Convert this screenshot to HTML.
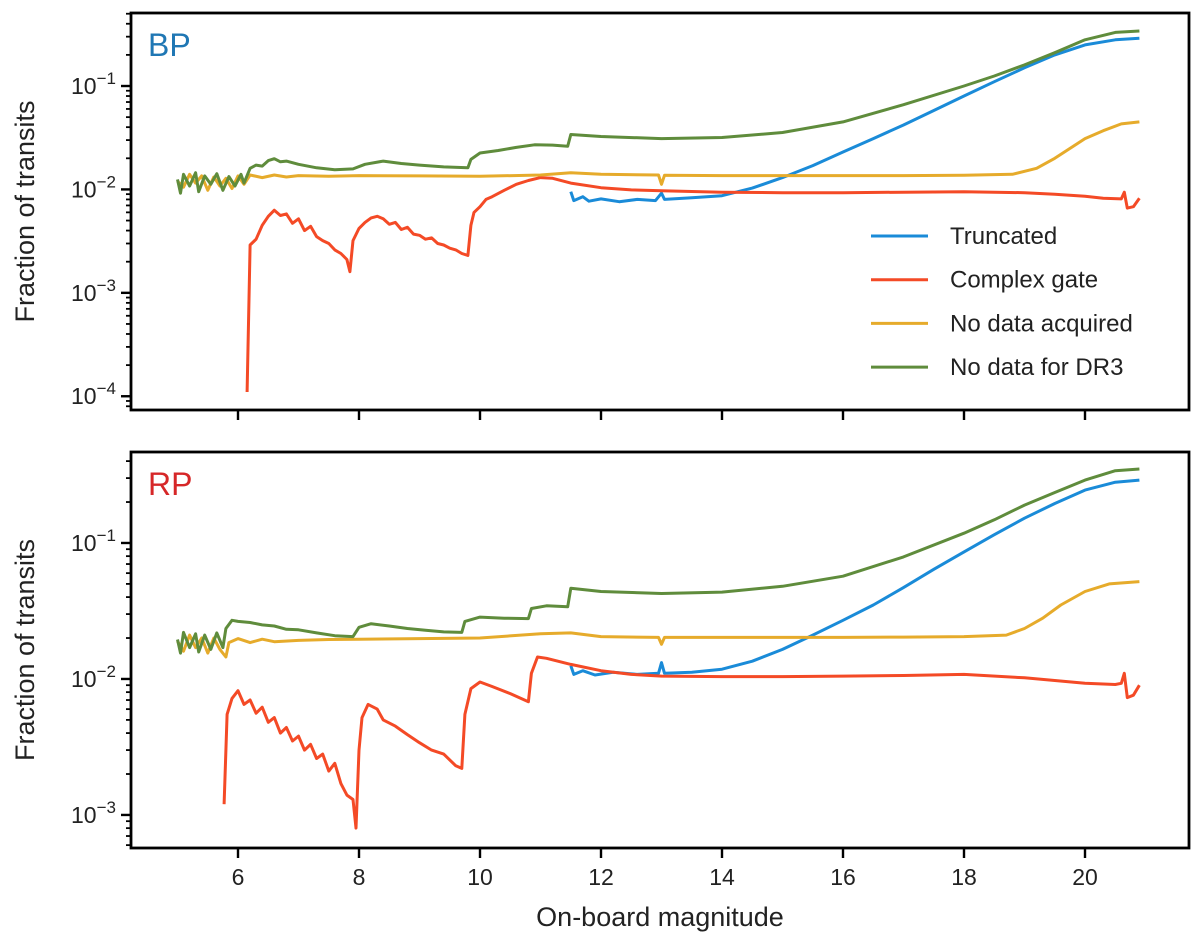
<!DOCTYPE html>
<html><head><meta charset="utf-8">
<style>
html,body{margin:0;padding:0;background:#fff;}
svg{display:block;font-family:"Liberation Sans",sans-serif;}
</style></head>
<body>
<svg id="chart" width="1200" height="951" viewBox="0 0 1200 951">
  <g id="bp-panel"></g>
  <g id="rp-panel"></g>
  <text x="660" y="926" font-size="27" text-anchor="middle" fill="#222">On-board magnitude</text>
</svg>
<script>
// ---- data: [magnitude, fraction] ----
const bpTruncated = [[11.5,0.0095],[11.55,0.0078],[11.7,0.0085],[11.8,0.0077],[12,0.0081],[12.3,0.0076],[12.6,0.008],[12.9,0.0078],[13,0.0092],[13.05,0.008],[13.5,0.0083],[14,0.0087],[14.5,0.0103],[15,0.013],[15.5,0.017],[16,0.023],[16.5,0.031],[17,0.042],[17.5,0.058],[18,0.08],[18.5,0.11],[19,0.15],[19.5,0.2],[20,0.25],[20.5,0.28],[20.9,0.29]];
const bpComplex = [[6.15,0.00011],[6.2,0.0029],[6.3,0.0033],[6.4,0.0045],[6.5,0.0055],[6.6,0.0063],[6.7,0.0056],[6.8,0.0058],[6.9,0.0047],[7.0,0.0052],[7.1,0.004],[7.2,0.0044],[7.3,0.0035],[7.4,0.0032],[7.5,0.003],[7.6,0.0026],[7.7,0.0024],[7.8,0.0021],[7.85,0.0016],[7.9,0.0032],[8.0,0.0042],[8.1,0.0048],[8.2,0.0053],[8.3,0.0055],[8.4,0.0052],[8.5,0.0046],[8.6,0.0048],[8.7,0.0041],[8.8,0.0043],[8.9,0.0037],[9.0,0.0036],[9.1,0.0033],[9.2,0.0034],[9.3,0.003],[9.4,0.0029],[9.5,0.0027],[9.6,0.0026],[9.7,0.0024],[9.8,0.0023],[9.85,0.0045],[9.9,0.006],[10.0,0.0068],[10.1,0.008],[10.2,0.0085],[10.4,0.0098],[10.6,0.0112],[10.8,0.0122],[11.0,0.013],[11.2,0.0128],[11.5,0.0115],[12,0.0104],[12.5,0.0099],[13,0.0097],[14,0.0094],[15,0.0093],[16,0.0093],[17,0.0094],[18,0.0095],[19,0.0093],[19.5,0.009],[20,0.0086],[20.3,0.0082],[20.6,0.0081],[20.65,0.0094],[20.7,0.0066],[20.8,0.0068],[20.9,0.0082]];
const bpNoData = [[5,0.012],[5.1,0.0105],[5.2,0.014],[5.3,0.0115],[5.4,0.0135],[5.5,0.0098],[5.6,0.0132],[5.7,0.0108],[5.8,0.0128],[5.9,0.0102],[6.0,0.0135],[6.1,0.0112],[6.2,0.0138],[6.4,0.013],[6.6,0.0138],[6.8,0.0132],[7.0,0.0136],[7.5,0.0134],[8,0.0136],[9,0.0135],[10,0.0134],[11,0.0138],[11.5,0.0145],[12,0.014],[12.95,0.0138],[13,0.0112],[13.05,0.0137],[14,0.0136],[15,0.0136],[16,0.0136],[17,0.0136],[18,0.0137],[18.8,0.014],[19.2,0.016],[19.5,0.02],[19.8,0.026],[20,0.031],[20.3,0.037],[20.6,0.043],[20.9,0.045]];
const bpDR3 = [[5,0.0125],[5.05,0.0092],[5.1,0.014],[5.2,0.0108],[5.3,0.0145],[5.35,0.0095],[5.45,0.0135],[5.55,0.0112],[5.65,0.0142],[5.75,0.0098],[5.85,0.0133],[5.95,0.0108],[6.05,0.014],[6.1,0.0115],[6.2,0.016],[6.3,0.0172],[6.4,0.0168],[6.5,0.019],[6.6,0.0198],[6.7,0.0185],[6.8,0.0188],[7.0,0.0175],[7.3,0.0162],[7.6,0.0155],[7.9,0.0158],[8.1,0.0175],[8.4,0.0188],[8.7,0.0178],[9.0,0.0172],[9.4,0.0165],[9.8,0.0162],[9.85,0.0195],[10.0,0.0225],[10.3,0.0238],[10.6,0.0255],[10.9,0.027],[11.2,0.0268],[11.45,0.0262],[11.5,0.034],[12,0.0325],[13,0.031],[14,0.0318],[15,0.0355],[16,0.045],[17,0.066],[18,0.1],[18.5,0.125],[19,0.16],[19.5,0.21],[20,0.28],[20.5,0.33],[20.9,0.34]];

const rpTruncated = [[11.5,0.0125],[11.55,0.0108],[11.7,0.0115],[11.9,0.0107],[12.2,0.0112],[12.6,0.0108],[12.95,0.011],[13,0.0132],[13.05,0.011],[13.5,0.0112],[14,0.0118],[14.5,0.0135],[15,0.0165],[15.5,0.021],[16,0.027],[16.5,0.035],[17,0.047],[17.5,0.064],[18,0.086],[18.5,0.115],[19,0.152],[19.5,0.195],[20,0.245],[20.5,0.28],[20.9,0.29]];
const rpComplex = [[5.77,0.0012],[5.82,0.0055],[5.9,0.0072],[6.0,0.0082],[6.1,0.0065],[6.2,0.007],[6.3,0.0056],[6.4,0.0062],[6.5,0.0048],[6.6,0.0052],[6.7,0.004],[6.8,0.0044],[6.9,0.0035],[7.0,0.0038],[7.1,0.003],[7.2,0.0033],[7.3,0.0026],[7.4,0.0028],[7.5,0.0021],[7.6,0.0024],[7.7,0.0017],[7.8,0.0014],[7.9,0.0013],[7.95,0.0008],[8.0,0.003],[8.05,0.0052],[8.15,0.0065],[8.3,0.006],[8.4,0.005],[8.6,0.0045],[8.8,0.0039],[9.0,0.0034],[9.2,0.003],[9.4,0.0028],[9.6,0.0023],[9.7,0.0022],[9.75,0.0055],[9.85,0.0085],[10.0,0.0095],[10.2,0.0088],[10.5,0.0078],[10.8,0.0068],[10.85,0.011],[10.95,0.0145],[11.1,0.0142],[11.5,0.0128],[12,0.0115],[12.5,0.0108],[13,0.0105],[14,0.0104],[15,0.0104],[16,0.0105],[17,0.0106],[18,0.0108],[19,0.0102],[20,0.0093],[20.5,0.0091],[20.6,0.0093],[20.65,0.011],[20.7,0.0073],[20.8,0.0076],[20.9,0.009]];
const rpNoData = [[5,0.019],[5.1,0.016],[5.2,0.021],[5.3,0.017],[5.4,0.02],[5.5,0.0155],[5.6,0.02],[5.7,0.0165],[5.8,0.0145],[5.85,0.0185],[6.0,0.0198],[6.2,0.0185],[6.4,0.0196],[6.6,0.0188],[7.0,0.0192],[7.5,0.0195],[8,0.0196],[9,0.0198],[10,0.02],[11,0.0215],[11.5,0.0218],[12,0.0205],[12.95,0.0202],[13,0.018],[13.05,0.0202],[14,0.0202],[15,0.0202],[16,0.0202],[17,0.0203],[18,0.0205],[18.7,0.021],[19,0.0235],[19.3,0.028],[19.6,0.035],[20,0.044],[20.4,0.05],[20.9,0.052]];
const rpDR3 = [[5,0.0195],[5.05,0.0155],[5.1,0.022],[5.2,0.017],[5.3,0.0215],[5.35,0.0158],[5.45,0.021],[5.55,0.0165],[5.65,0.0218],[5.75,0.017],[5.8,0.0235],[5.9,0.027],[6.0,0.0265],[6.2,0.026],[6.4,0.025],[6.6,0.0245],[6.8,0.0232],[7.0,0.023],[7.3,0.0218],[7.6,0.0208],[7.9,0.0205],[8.0,0.024],[8.2,0.0255],[8.5,0.0245],[8.8,0.0235],[9.1,0.0228],[9.4,0.0222],[9.7,0.022],[9.75,0.0265],[10.0,0.0285],[10.4,0.028],[10.8,0.0278],[10.85,0.033],[11.1,0.0345],[11.45,0.034],[11.5,0.0465],[12,0.044],[13,0.0425],[14,0.0435],[15,0.048],[16,0.057],[17,0.079],[18,0.118],[18.5,0.148],[19,0.19],[19.5,0.235],[20,0.29],[20.5,0.34],[20.9,0.35]];

const seriesNames = ["Truncated","Complex gate","No data acquired","No data for DR3"];
const seriesColors = ["#1a8bd8","#f44a26","#e6ab2b","#5f8c3c"];
const xTicks = [6,8,10,12,14,16,18,20];

// ---- axis functions ----
const XL = 131, XR = 1189;
function xScale(m){ return 238 + (m - 6) * 60.5; }
function makeY(top, bottom, logTop, logBottom){
  return v => top + (logTop - Math.log10(v)) / (logTop - logBottom) * (bottom - top);
}
const NS = "http://www.w3.org/2000/svg";
function el(tag, attrs, parent){
  const e = document.createElementNS(NS, tag);
  for (const k in attrs) e.setAttribute(k, attrs[k]);
  parent.appendChild(e);
  return e;
}

function drawPanel(g, cfg){
  const y = makeY(cfg.top, cfg.bottom, cfg.logTop, cfg.logBottom);
  const clipId = cfg.key + "-clip";
  const defs = el("defs", {}, g);
  const cp = el("clipPath", {id: clipId}, defs);
  el("rect", {x: XL, y: cfg.top, width: XR - XL, height: cfg.bottom - cfg.top}, cp);

  const lines = el("g", {"clip-path": "url(#" + clipId + ")"}, g);
  cfg.series.forEach((data, i) => {
    const d = data.map((p, j) => (j ? "L" : "M") + xScale(p[0]).toFixed(1) + "," + y(p[1]).toFixed(1)).join("");
    const path = el("path", {d: d, fill: "none", stroke: seriesColors[i], "stroke-width": 3, "stroke-linejoin": "round"}, lines);
    
    
  });

  const lo = Math.floor(cfg.logBottom), hi = Math.ceil(cfg.logTop);
  for (let e = lo; e <= hi; e++) {
    for (let k = 1; k <= 9; k++) {
      const v = k * Math.pow(10, e);
      const lv = Math.log10(v);
      if (lv > cfg.logTop || lv < cfg.logBottom) continue;
      const yy = y(v);
      const len = k === 1 ? 10 : 5;
      el("line", {x1: XL - len, x2: XL, y1: yy, y2: yy, stroke: "#000", "stroke-width": k === 1 ? 2.4 : 1.8}, g);
      if (k === 1) {
        const t = el("text", {x: XL - 15, y: yy + 8, "font-size": 23, "text-anchor": "end", fill: "#222"}, g);
        
        
        t.textContent = "10";
        const s = el("tspan", {dy: -10, "font-size": 17}, t);
        s.textContent = "\u2212" + (-e);
      }
    }
  }
  xTicks.forEach(m => {
    const xx = xScale(m);
    el("line", {x1: xx, x2: xx, y1: cfg.bottom, y2: cfg.bottom + 10, stroke: "#000", "stroke-width": 2.4}, g);
    if (cfg.xLabels) {
      const t = el("text", {x: xx, y: cfg.bottom + 37, "font-size": 23, "text-anchor": "middle", fill: "#222"}, g);
      
      
      t.textContent = m;
    }
  });
  const frame = el("rect", {x: XL, y: cfg.top, width: XR - XL, height: cfg.bottom - cfg.top, fill: "none", stroke: "#000", "stroke-width": 2.8}, g);
  
  

  const yt = el("text", {x: 0, y: 0, "font-size": 27, "text-anchor": "middle", fill: "#222", transform: "translate(34," + ((cfg.top + cfg.bottom) / 2) + ") rotate(-90)"}, g);
  
  
  yt.textContent = "Fraction of transits";

  const pl = el("text", {x: 148, y: cfg.top + 43, "font-size": 32, fill: cfg.labelColor}, g);
  
  
  pl.textContent = cfg.label;
}

drawPanel(document.getElementById("bp-panel"), {key: "bp", top: 13, bottom: 410, logTop: -0.294, logBottom: -4.133,
  series: [bpTruncated, bpComplex, bpNoData, bpDR3], xLabels: false, label: "BP", labelColor: "#1f77b4"});
drawPanel(document.getElementById("rp-panel"), {key: "rp", top: 452, bottom: 848, logTop: -0.331, logBottom: -3.243,
  series: [rpTruncated, rpComplex, rpNoData, rpDR3], xLabels: true, label: "RP", labelColor: "#d62728"});

const lg = el("g", {}, document.getElementById("bp-panel"));


seriesNames.forEach((n, i) => {
  const yy = 236 + i * 43.7;
  const ent = el("g", {}, lg);
  
  
  el("line", {x1: 871, x2: 928, y1: yy, y2: yy, stroke: seriesColors[i], "stroke-width": 3}, ent);
  const t = el("text", {x: 950, y: yy + 8, "font-size": 24, fill: "#222"}, ent);
  t.textContent = n;
});
</script>
</body></html>
